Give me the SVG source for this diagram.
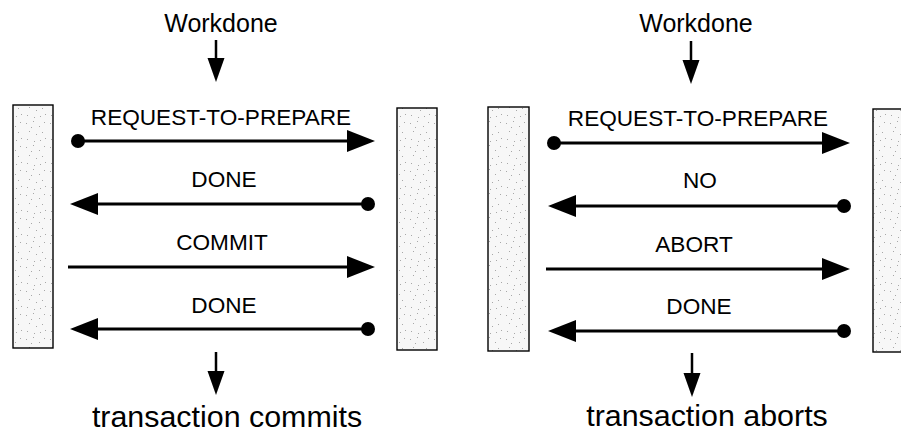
<svg xmlns="http://www.w3.org/2000/svg" width="901" height="435" viewBox="0 0 901 435">
  <style>
    .box { fill: url(#speckle); stroke: #000; stroke-width: 1.4; }
    .msg { fill: none; stroke: #000; stroke-width: 3; }
    .flow { fill: none; stroke: #000; stroke-width: 2.5; }
    .lbl { font-family: "Liberation Sans", Arial, sans-serif; font-size: 22.6px; fill: #000; text-anchor: middle; }
    .top { font-family: "Liberation Sans", Arial, sans-serif; font-size: 25px; fill: #000; text-anchor: middle; }
    .res { font-family: "Liberation Sans", Arial, sans-serif; font-size: 30.4px; fill: #000; text-anchor: middle; }
  </style>
  <defs>
    <pattern id="speckle" width="24" height="24" patternUnits="userSpaceOnUse">
      <rect width="24" height="24" fill="#f7f7f7"/>
      <g fill="#a8a8a8">
        <rect x="2" y="3" width="1" height="1"/>
        <rect x="9" y="1" width="1" height="1"/>
        <rect x="15" y="6" width="1" height="1"/>
        <rect x="20" y="2" width="1" height="1"/>
        <rect x="5" y="11" width="1" height="1"/>
        <rect x="12" y="14" width="1" height="1"/>
        <rect x="18" y="12" width="1" height="1"/>
        <rect x="3" y="19" width="1" height="1"/>
        <rect x="10" y="21" width="1" height="1"/>
        <rect x="21" y="18" width="1" height="1"/>
        <rect x="7" y="7" width="1" height="1"/>
        <rect x="16" y="20" width="1" height="1"/>
      </g>
    </pattern>
    <marker id="arrow" markerUnits="userSpaceOnUse" markerWidth="30" markerHeight="24" viewBox="0 -12 30 24" refX="2" refY="0" orient="auto">
      <path d="M0,-11 L28,0 L0,11 Z" fill="#000"/>
    </marker>
    <marker id="dot" markerUnits="userSpaceOnUse" markerWidth="16" markerHeight="16" viewBox="-8 -8 16 16" refX="0" refY="0" orient="auto">
      <circle r="7" fill="#000"/>
    </marker>
    <marker id="arrowSmall" markerUnits="userSpaceOnUse" markerWidth="26" markerHeight="20" viewBox="0 -10 26 20" refX="2" refY="0" orient="auto">
      <path d="M0,-8.5 L24,0 L0,8.5 Z" fill="#000"/>
    </marker>
  </defs>

  <!-- Left scenario: commit -->
  <g id="commit-start">
    <text class="top" x="221" y="32">Workdone</text>
  </g>
  <g id="commit-coordinator">
    <rect class="box" x="13" y="105" width="40" height="243"/>
  </g>
  <g id="commit-participant">
    <rect class="box" x="397" y="108" width="40" height="242"/>
  </g>
  <g id="commit-result">
    <text class="res" x="227" y="427">transaction commits</text>
  </g>

  <!-- Right scenario: abort -->
  <g id="abort-start">
    <text class="top" x="696" y="32">Workdone</text>
  </g>
  <g id="abort-coordinator">
    <rect class="box" x="488" y="107" width="41" height="244"/>
  </g>
  <g id="abort-participant">
    <rect class="box" x="873" y="109" width="40" height="243"/>
  </g>
  <g id="abort-result">
    <text class="res" x="707" y="426">transaction aborts</text>
  </g>

  <g id="connectors">
    <!-- left -->
    <path class="flow" d="M216,40 L216,60" marker-end="url(#arrowSmall)"/>
    <path class="msg" d="M78,141 L349,141" marker-start="url(#dot)" marker-end="url(#arrow)"/>
    <text class="lbl" x="221" y="125">REQUEST-TO-PREPARE</text>
    <path class="msg" d="M368,204 L96,204" marker-start="url(#dot)" marker-end="url(#arrow)"/>
    <text class="lbl" x="224" y="187">DONE</text>
    <path class="msg" d="M68,267 L349,267" marker-end="url(#arrow)"/>
    <text class="lbl" x="222" y="250">COMMIT</text>
    <path class="msg" d="M368,329 L96,329" marker-start="url(#dot)" marker-end="url(#arrow)"/>
    <text class="lbl" x="224" y="313">DONE</text>
    <path class="flow" d="M216,352 L216,373" marker-end="url(#arrowSmall)"/>

    <!-- right -->
    <path class="flow" d="M691,41 L691,62" marker-end="url(#arrowSmall)"/>
    <path class="msg" d="M554,143 L824,143" marker-start="url(#dot)" marker-end="url(#arrow)"/>
    <text class="lbl" x="698" y="126">REQUEST-TO-PREPARE</text>
    <path class="msg" d="M844,206 L574,206" marker-start="url(#dot)" marker-end="url(#arrow)"/>
    <text class="lbl" x="700" y="188">NO</text>
    <path class="msg" d="M546,269 L824,269" marker-end="url(#arrow)"/>
    <text class="lbl" x="694" y="252">ABORT</text>
    <path class="msg" d="M844,331 L574,331" marker-start="url(#dot)" marker-end="url(#arrow)"/>
    <text class="lbl" x="699" y="314">DONE</text>
    <path class="flow" d="M692,353 L692,375" marker-end="url(#arrowSmall)"/>
  </g>
</svg>
